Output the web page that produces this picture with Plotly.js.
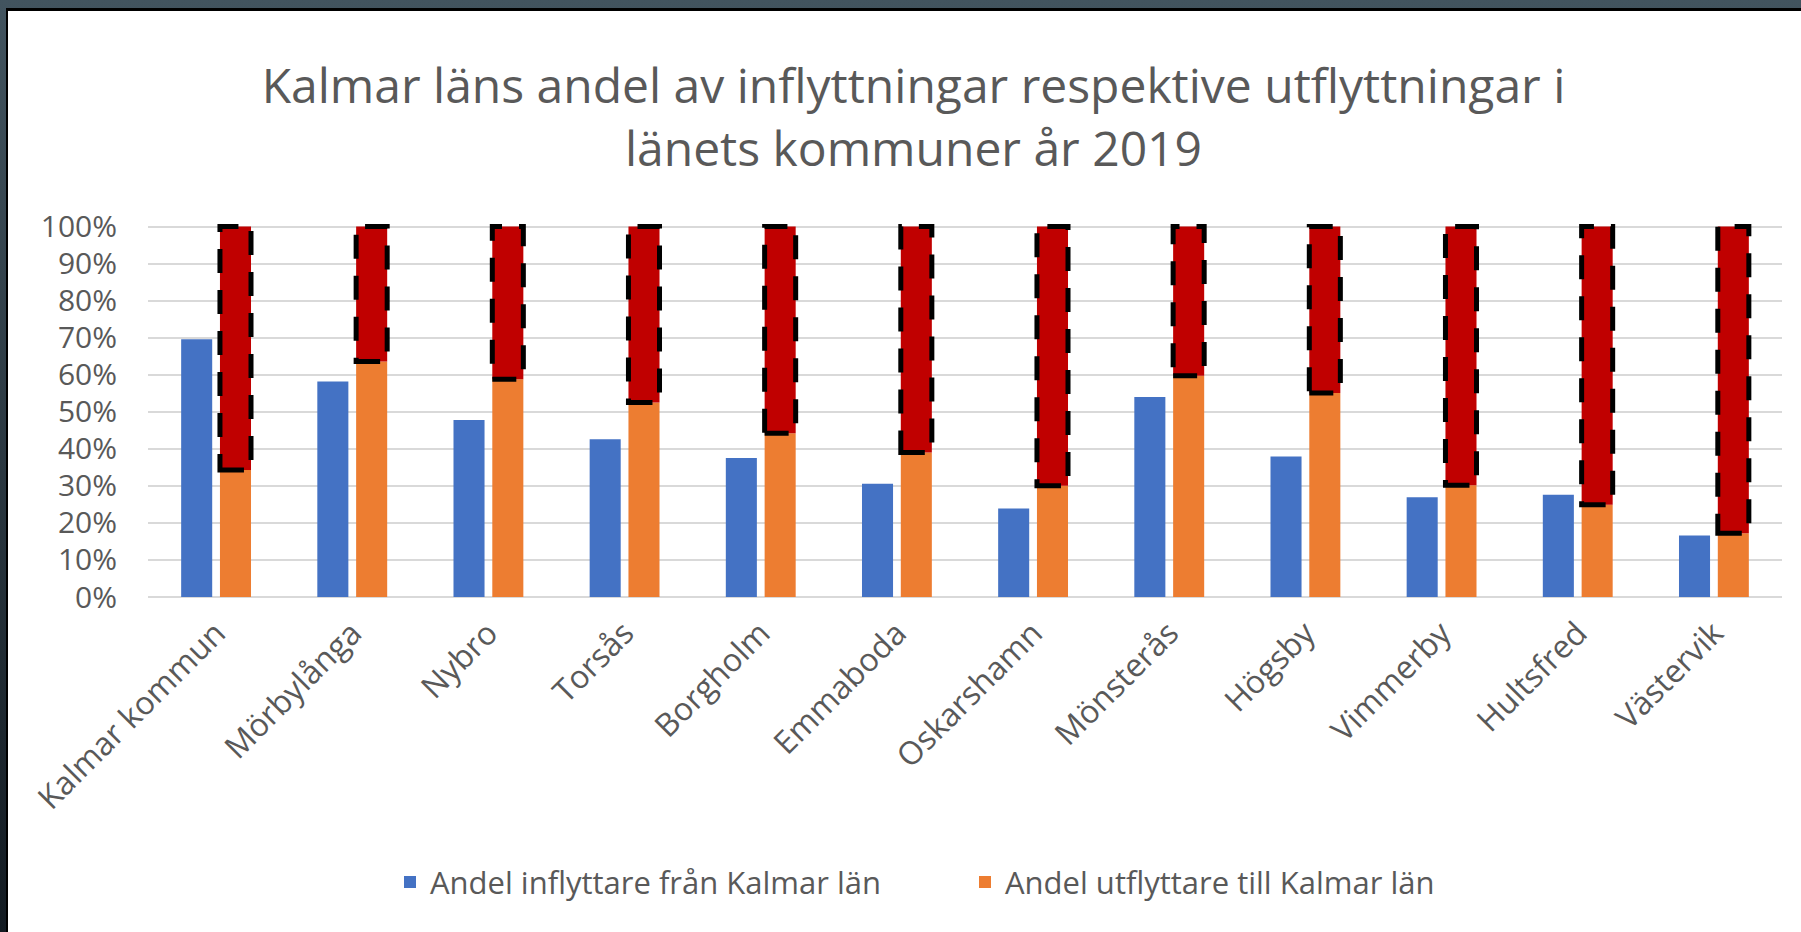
<!DOCTYPE html>
<html>
<head>
<meta charset="utf-8">
<script src="https://cdn.plot.ly/plotly-3.0.1.min.js"></script>
<style>
    body { margin: 0; width: 1801px; height: 932px; overflow: hidden;
           background: linear-gradient(to bottom, #42545f, #131b22); }
    #frame { position: absolute; left: 6px; top: 8px;
             border-top: 3px solid #000; border-left: 2px solid #000; }
    #chart { width: 1793px; height: 921px; background: #fff; }
</style>
</head>
<body>
<div id="frame"><div id="chart"></div></div>
<script>
// Kommuner i Kalmar län
const kommuner = ['Kalmar kommun', 'Mörbylånga', 'Nybro', 'Torsås', 'Borgholm', 'Emmaboda',
    'Oskarshamn', 'Mönsterås', 'Högsby', 'Vimmerby', 'Hultsfred', 'Västervik'];

// Andel inflyttare från Kalmar län
const inflyttare = [0.696, 0.582, 0.478, 0.426, 0.375, 0.306, 0.239, 0.540, 0.379, 0.269, 0.276, 0.166];

// Andel utflyttare till Kalmar län
const utflyttare = [0.343, 0.636, 0.588, 0.525, 0.442, 0.390, 0.300, 0.597, 0.551, 0.302, 0.249, 0.172];

// Hela staplen (100 %)
const helhet = 1;
const rest = utflyttare.map(v => helhet - v);

const grey = '#595959';
const font = 'Open Sans, sans-serif';

const traces = [
    {
        type: 'bar', name: 'Andel inflyttare från Kalmar län',
        x: kommuner, y: inflyttare, offsetgroup: 'in',
        marker: { color: '#4472C4' }
    },
    {
        type: 'bar', name: 'Andel utflyttare till Kalmar län',
        x: kommuner, y: utflyttare, offsetgroup: 'ut',
        marker: { color: '#ED7D31' }
    },
    {
        type: 'bar', name: 'rest', showlegend: false,
        x: kommuner, y: rest, base: utflyttare, offsetgroup: 'ut',
        marker: { color: '#C00000' }
    }
];

// Streckad ram runt den röda delen
const bargap = 0.43;
const groupgap = 0.2;
const slot = (1 - bargap) / 2;
const left = slot * groupgap / 2;
const right = slot - slot * groupgap / 2;
const shapes = kommuner.map((k, i) => ({
    type: 'rect', xref: 'x', yref: 'y',
    x0: k, x1: k, x0shift: left, x1shift: right,
    y0: utflyttare[i], y1: helhet,
    line: { color: '#000', width: 5, dash: '24px,17px' },
    layer: 'above'
}));

const layout = {
    width: 1793, height: 921,
    title: {
        text: 'Kalmar läns andel av inflyttningar respektive utflyttningar i<br>länets kommuner år 2019',
        font: { family: font, size: 48, color: grey },
        x: 0.505, xref: 'container', xanchor: 'center',
        y: 0.9, yref: 'container', yanchor: 'middle'
    },
    barmode: 'group',
    bargap: bargap,
    bargroupgap: groupgap,
    margin: { l: 140, r: 19, t: 210, b: 335 },
    xaxis: {
        type: 'category',
        tickangle: -45,
        tickfont: { family: font, size: 32, color: grey },
        showgrid: false, showline: false, ticks: '',
        ticklabelstandoff: 10
    },
    yaxis: {
        range: [0, 1.015],
        dtick: 0.1,
        tickformat: '.0%',
        tickfont: { family: font, size: 30, color: grey },
        gridcolor: '#d9d9d9', gridwidth: 2,
        zeroline: true, zerolinecolor: '#d9d9d9', zerolinewidth: 2,
        ticklabelstandoff: 30
    },
    showlegend: true,
    legend: {
        orientation: 'h',
        x: 0.5, xanchor: 'center',
        y: -0.759, yanchor: 'middle',
        font: { family: font, size: 31, color: grey },
        entrywidth: 530
    },
    shapes: shapes,
    plot_bgcolor: '#ffffff',
    paper_bgcolor: '#ffffff'
};

Plotly.newPlot('chart', traces, layout, { displayModeBar: false, staticPlot: true });
</script>
</body>
</html>
